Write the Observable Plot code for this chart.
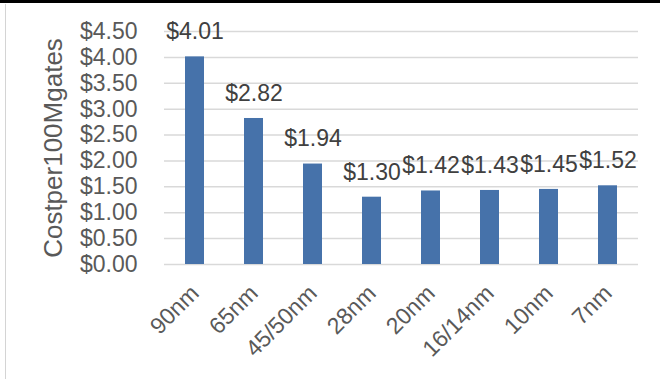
<!DOCTYPE html>
<html>
<head>
<meta charset="utf-8">
<script src="https://cdn.jsdelivr.net/npm/d3@7"></script>
<script src="https://cdn.jsdelivr.net/npm/@observablehq/plot@0.6"></script>
<style>
  html, body { margin: 0; padding: 0; background: #fff; }
  #wrap { position: relative; width: 660px; height: 379px; overflow: hidden; }
  #topbar { position: absolute; left: 0; top: 0; width: 660px; height: 3px; background: #000; }
  #leftbar { position: absolute; left: 5px; top: 4px; width: 1px; height: 375px; background: #d4d4d4; }
  #chart { position: absolute; left: 0; top: 0; }
</style>
</head>
<body>
<div id="wrap">
  <div id="chart"></div>
  <div id="topbar"></div>
  <div id="leftbar"></div>
</div>
<script>
const nodes = ["90nm", "65nm", "45/50nm", "28nm", "20nm", "16/14nm", "10nm", "7nm"];
const costs = [4.01, 2.82, 1.94, 1.30, 1.42, 1.43, 1.45, 1.52];
const yTicks = [0, 0.5, 1, 1.5, 2, 2.5, 3, 3.5, 4, 4.5];
const yTitle = "Costper100Mgates";

const data = nodes.map((n, i) => ({node: n, cost: costs[i]}));
const money = v => "$" + v.toFixed(2);
const font = "Liberation Sans, Arial, sans-serif";

const chart = Plot.plot({
  width: 660,
  height: 379,
  marginLeft: 164,
  marginRight: 22,
  marginTop: 31,
  marginBottom: 115,
  style: {fontFamily: font, background: "transparent"},
  x: {domain: nodes, padding: 0, label: null},
  y: {domain: [0, 4.5], label: null},
  marks: [
    Plot.gridY(yTicks, {stroke: "#d9d9d9", strokeOpacity: 1, strokeWidth: 1.5}),
    Plot.axisY(yTicks, {tickFormat: money, tickSize: 0, tickPadding: 27, fontSize: 23, fill: "#595959", label: null}),
    Plot.axisY({ticks: [], label: yTitle, labelAnchor: "center", labelArrow: "none", labelOffset: 121, fontSize: 26, fill: "#595959"}),
    Plot.axisX({tickSize: 0, tickRotate: -45, tickPadding: 25, fontSize: 23, fill: "#595959", label: null}),
    Plot.barY(data, {x: "node", y: "cost", fill: "#4672aa", insetLeft: 20, insetRight: 20}),
    Plot.text(data, {x: "node", y: "cost", text: d => money(d.cost), dy: -25, fontSize: 23, fill: "#404040"})
  ]
});
document.getElementById("chart").appendChild(chart);
</script>
</body>
</html>
